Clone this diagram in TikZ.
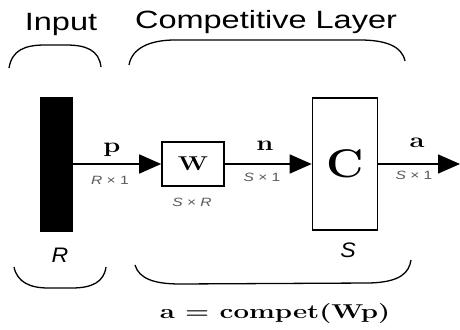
\documentclass[tikz,border=0pt]{standalone}
\usepackage{fontspec}
\setsansfont{Liberation Sans}
\usepackage{tikz}
\usetikzlibrary{arrows.meta,positioning}

\newcommand{\stretchx}[2][1.3]{\scalebox{#1}[1]{#2}}

\begin{document}
\begin{tikzpicture}[
    x=1pt, y=1pt,
    bar/.style={rectangle, draw, fill=black, minimum width=32pt, minimum height=134pt, inner sep=0pt},
    box/.style={rectangle, draw, line width=1.6pt, fill=white, inner sep=0pt},
    arr/.style={-{Triangle[length=22pt, width=19pt]}, line width=1.5pt},
    brace/.style={line width=1.3pt},
    title/.style={font=\sffamily\fontsize{25}{30}\selectfont, anchor=base, inner sep=0pt},
    sig/.style={font=\bfseries\fontsize{21}{25}\selectfont, inner sep=0pt},
    dim/.style={font=\sffamily\fontsize{12}{14}\selectfont, text=black!65, inner sep=0pt},
    size/.style={font=\sffamily\itshape\fontsize{21}{25}\selectfont, inner sep=0pt},
]
\useasboundingbox (0,0) rectangle (460,329);

% Headings
\node[title] (tin) at (61,298) {\stretchx{Input}};
\node[title] (tlay) at (266,300) {\stretchx{Competitive Layer}};

% Upper braces
\draw[brace] (9,261) .. controls (12,279) and (25,284) .. (45,284) -- (66,284)
    .. controls (86,284) and (99,279) .. (101,262);
\draw[brace] (129,264) .. controls (132,281) and (150,289) .. (175,289) -- (360,289)
    .. controls (385,289) and (402,283) .. (405,268);

% Blocks
\node[bar] (inp) at (56,165) {};
\node[box, minimum width=62pt, minimum height=44pt] (W) at (193,165)
    {\bfseries\fontsize{20}{24}\selectfont\stretchx{W}};
\node[box, minimum width=65pt, minimum height=132pt] (C) at (345,165)
    {\bfseries\fontsize{40}{48}\selectfont\stretchx[1.15]{C}};
\coordinate (out) at (460,165);

% Arrows
\draw[arr] (inp) -- (W);
\draw[arr] (W) -- (C);
\draw[arr] (C) -- (out);

% Signal labels
\node[sig] (lp) at (112,179) {\stretchx{p}};
\node[dim] (dp) at (110,149) {\stretchx{\textit{R} × 1}};
\node[dim] (dW) at (192,127) {\stretchx{\textit{S} × \textit{R}}};
\node[sig] (ln) at (265,183) {\stretchx{n}};
\node[dim] (dn) at (262,152) {\stretchx{\textit{S} × 1}};
\node[sig] (la) at (417,186) {\stretchx{a}};
\node[dim] (da) at (414,154) {\stretchx{\textit{S} × 1}};

% Sizes
\node[size] (sR) at (60,74) {\stretchx[1.1]{R}};
\node[size] (sS) at (348,79) {\stretchx[1.1]{S}};

% Lower braces
\draw[brace] (14,62) .. controls (17,47) and (30,41) .. (48,41) -- (72,41)
    .. controls (92,41) and (104,47) .. (106,62);
\draw[brace] (135,64) .. controls (139,50) and (155,45) .. (180,45) -- (370,46)
    .. controls (400,47) and (409,56) .. (411,69);

% Formula
\node[sig, anchor=base, font=\bfseries\fontsize{20}{24}\selectfont] (eq) at (275,11)
    {\stretchx[1.38]{a = compet(Wp)}};
\end{tikzpicture}
\end{document}
